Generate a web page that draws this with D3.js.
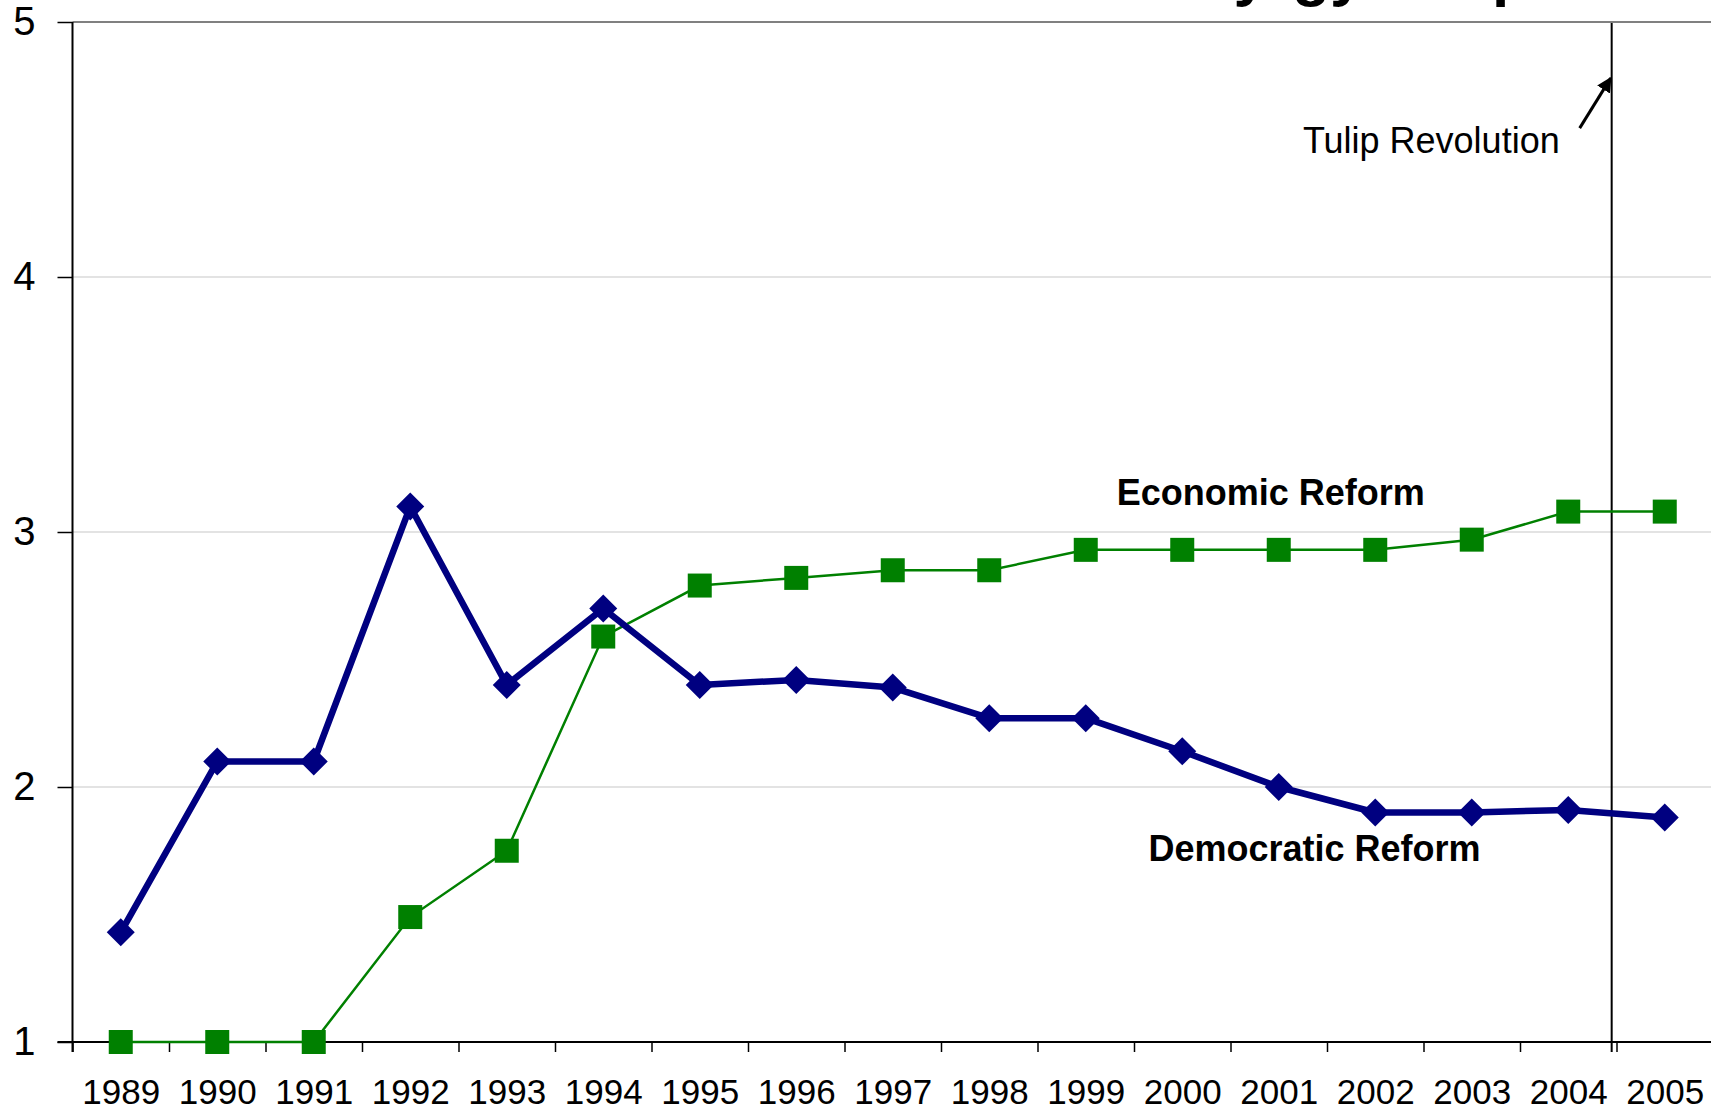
<!DOCTYPE html>
<html>
<head>
<meta charset="utf-8">
<script src="https://cdn.jsdelivr.net/npm/d3@7"></script>
<style>
  body { margin: 0; background: #ffffff; }
  svg { display: block; font-family: "Liberation Sans", Arial, Helvetica, sans-serif; }
</style>
</head>
<body>
<svg id="chart" width="1711" height="1110"></svg>
<script>
// ---- Data ----
const years = [1989, 1990, 1991, 1992, 1993, 1994, 1995, 1996, 1997, 1998, 1999, 2000, 2001, 2002, 2003, 2004, 2005];
const democraticReform = [1.43, 2.10, 2.10, 3.10, 2.40, 2.70, 2.40, 2.42, 2.39, 2.27, 2.27, 2.14, 2.00, 1.90, 1.90, 1.91, 1.88];
const economicReform   = [1.00, 1.00, 1.00, 1.49, 1.75, 2.59, 2.79, 2.82, 2.85, 2.85, 2.93, 2.93, 2.93, 2.93, 2.97, 3.08, 3.08];
const yTicks = [1, 2, 3, 4, 5];
const seriesNames = ["Democratic Reform", "Economic Reform"];
const eventYear = 2004.45;
const eventLabel = "Tulip Revolution";
const titleText = "Reform in the Kyrgyz Republic";

// ---- Layout ----
const W = 1711, H = 1110;
const plot = { left: 72.5, top: 22, bottom: 1042, right: 1713 };
const svg = d3.select("#chart");

const x = d3.scaleLinear()
  .domain([years[0] - 0.5, years[years.length - 1] + 0.5])
  .range([plot.left, plot.right]);
const y = d3.scaleLinear().domain([1, 5]).range([plot.bottom, plot.top]);

// Title (cut off at the top in the reference, only descenders visible)
svg.append("text")
  .attr("x", 772).attr("y", -6)
  .attr("font-size", 62).attr("font-weight", "bold")
  .attr("fill", "#000")
  .text(titleText);

// Gridlines
svg.append("g").selectAll("line")
  .data(yTicks.filter(d => d > 1 && d < 5))
  .join("line")
  .attr("x1", plot.left).attr("x2", W)
  .attr("y1", d => y(d)).attr("y2", d => y(d))
  .attr("stroke", "#c8c8c8").attr("stroke-width", 1.2);

// Top border of plot area
svg.append("line")
  .attr("x1", plot.left).attr("x2", W)
  .attr("y1", y(5)).attr("y2", y(5))
  .attr("stroke", "#808080").attr("stroke-width", 2.2);

// Y axis
const yAxis = d3.axisLeft(y).tickValues(yTicks).tickSize(15).tickPadding(22).tickFormat(d3.format("d"));
const gy = svg.append("g").attr("transform", `translate(${plot.left},0)`).call(yAxis);
gy.select(".domain").remove();
gy.selectAll(".tick line").attr("stroke", "#000").attr("stroke-width", 1.5);
gy.selectAll(".tick text").attr("font-size", 40).attr("fill", "#000")
  .attr("font-family", "'Liberation Sans', Arial, sans-serif");
svg.append("line")
  .attr("x1", plot.left).attr("x2", plot.left)
  .attr("y1", plot.top).attr("y2", plot.bottom + 10)
  .attr("stroke", "#000").attr("stroke-width", 2);

// X axis ticks at category boundaries
const boundaries = d3.range(years.length + 1).map(i => years[0] - 0.5 + i);
const xTickAxis = d3.axisBottom(x).tickValues(boundaries).tickSize(10).tickFormat("");
const gxt = svg.append("g").attr("transform", `translate(0,${plot.bottom})`).call(xTickAxis);
gxt.select(".domain").remove();
gxt.selectAll(".tick line").attr("stroke", "#000").attr("stroke-width", 1.5);

// X axis labels at category centres
const xLabelAxis = d3.axisBottom(x).tickValues(years).tickSize(0).tickPadding(37).tickFormat(d3.format("d"));
const gxl = svg.append("g").attr("transform", `translate(0,${plot.bottom})`).call(xLabelAxis);
gxl.select(".domain").remove();
gxl.selectAll(".tick text").attr("font-size", 35).attr("fill", "#000")
  .attr("font-family", "'Liberation Sans', Arial, sans-serif");

// X axis line
svg.append("line")
  .attr("x1", plot.left - 15).attr("x2", W)
  .attr("y1", y(1)).attr("y2", y(1))
  .attr("stroke", "#000").attr("stroke-width", 2);

// Event line (Tulip Revolution)
svg.append("line")
  .attr("x1", x(eventYear)).attr("x2", x(eventYear))
  .attr("y1", plot.top + 1).attr("y2", plot.bottom + 10)
  .attr("stroke", "#000").attr("stroke-width", 2);

// Arrow
const defs = svg.append("defs");
defs.append("marker")
  .attr("id", "arrowhead")
  .attr("viewBox", "0 0 10 10")
  .attr("refX", 9).attr("refY", 5)
  .attr("markerWidth", 5).attr("markerHeight", 5)
  .attr("markerUnits", "strokeWidth")
  .attr("orient", "auto")
  .append("path").attr("d", "M0,0 L10,5 L0,10 Z").attr("fill", "#000");

const tipX = x(eventYear) - 1, tipY = y(4.78);
svg.append("line")
  .attr("x1", tipX - 31).attr("y1", tipY + 50)
  .attr("x2", tipX).attr("y2", tipY)
  .attr("stroke", "#000").attr("stroke-width", 3)
  .attr("marker-end", "url(#arrowhead)");

svg.append("text")
  .attr("x", x(2001.25)).attr("y", y(4.486))
  .attr("font-size", 36).attr("fill", "#000")
  .text(eventLabel);

// Lines
const lineGen = d3.line().x(d => x(d[0])).y(d => y(d[1]));
const econData = years.map((yr, i) => [yr, economicReform[i]]);
const demData = years.map((yr, i) => [yr, democraticReform[i]]);

svg.append("path")
  .datum(econData)
  .attr("d", lineGen)
  .attr("fill", "none")
  .attr("stroke", "#008000").attr("stroke-width", 2.5);

svg.append("path")
  .datum(demData)
  .attr("d", lineGen)
  .attr("fill", "none")
  .attr("stroke", "#000080").attr("stroke-width", 6.5)
  .attr("stroke-linejoin", "round");

// Markers
const sq = 24;
svg.append("g").selectAll("rect")
  .data(econData)
  .join("rect")
  .attr("x", d => x(d[0]) - sq / 2)
  .attr("y", d => y(d[1]) - sq / 2)
  .attr("width", sq).attr("height", sq)
  .attr("fill", "#008000");

const diamond = d3.symbol().type(d3.symbolDiamond2).size(500);
svg.append("g").selectAll("path")
  .data(demData)
  .join("path")
  .attr("d", diamond)
  .attr("transform", d => `translate(${x(d[0])},${y(d[1])})`)
  .attr("fill", "#000080");

// Series labels
svg.append("text")
  .attr("x", x(1999.32)).attr("y", y(3.106))
  .attr("font-size", 36).attr("font-weight", "bold").attr("fill", "#000")
  .text(seriesNames[1]);

svg.append("text")
  .attr("x", x(1999.65)).attr("y", y(1.708))
  .attr("font-size", 36).attr("font-weight", "bold").attr("fill", "#000")
  .text(seriesNames[0]);
</script>
</body>
</html>
